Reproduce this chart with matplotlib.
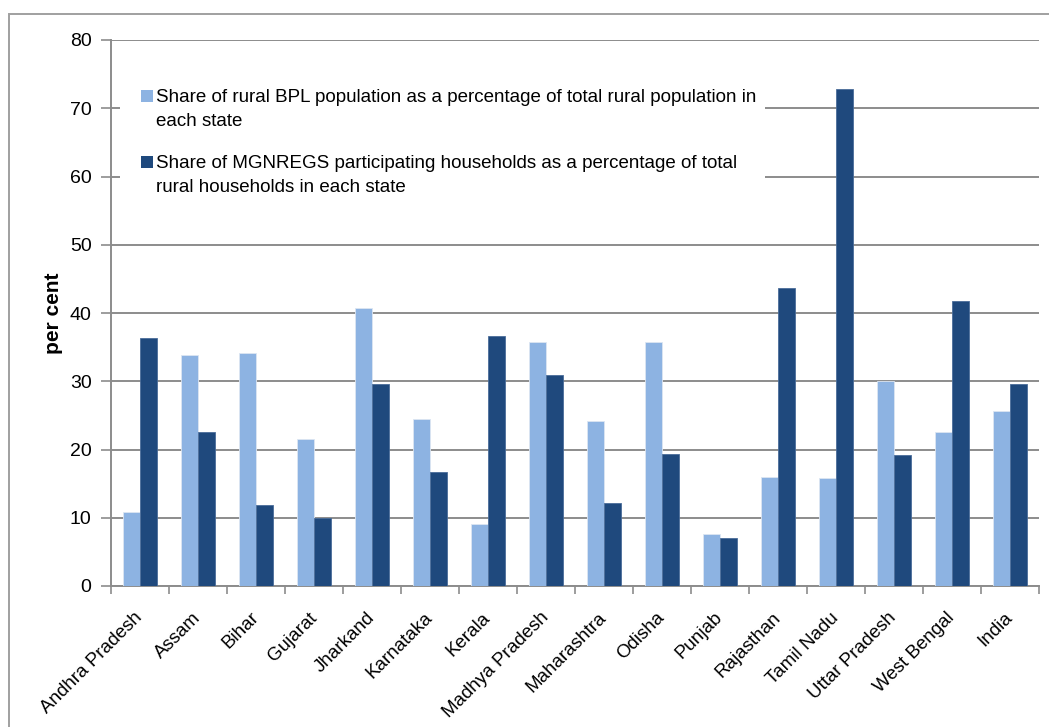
import numpy as np
import matplotlib.pyplot as plt
from matplotlib.patches import Rectangle

plt.rcParams['font.family'] = ['Liberation Sans', 'DejaVu Sans']

states = ['Andhra Pradesh', 'Assam', 'Bihar', 'Gujarat', 'Jharkand', 'Karnataka',
          'Kerala', 'Madhya Pradesh', 'Maharashtra', 'Odisha', 'Punjab', 'Rajasthan',
          'Tamil Nadu', 'Uttar Pradesh', 'West Bengal', 'India']
bpl_share = [10.8, 33.9, 34.1, 21.5, 40.8, 24.5, 9.1, 35.8,
             24.2, 35.7, 7.6, 16.0, 15.8, 30.0, 22.5, 25.7]
mgnregs_share = [36.3, 22.6, 11.9, 9.9, 29.6, 16.7, 36.6, 30.9,
                 12.1, 19.3, 7.1, 43.6, 72.8, 19.2, 41.8, 29.6]
legend_labels = ['Share of rural BPL population as a percentage of total rural population in\neach state',
                 'Share of MGNREGS participating households as a percentage of total\nrural households in each state']

light = '#8DB3E2'
dark = '#1F497D'
grey = '#8c8c8c'

fig = plt.figure(figsize=(10.49, 7.27), dpi=100)
ax = fig.add_axes([111/1049, 1-586/727, 928/1049, 546/727])

x = np.arange(len(states))
w = 0.29
ax.bar(x - w/2, bpl_share, w, color=light, edgecolor='#dce6f2', linewidth=0.6, zorder=3)
ax.bar(x + w/2, mgnregs_share, w, color=dark, edgecolor='#4a6d9a', linewidth=0.6, zorder=3)

ax.set_xlim(-0.5, len(states) - 0.5)
ax.set_ylim(0, 80)
ax.set_yticks(range(0, 81, 10))
ax.yaxis.grid(True, color=grey, linewidth=1.4, zorder=0)
ax.set_axisbelow(True)
for s in ['top', 'right']:
    ax.spines[s].set_visible(False)
for s in ['left', 'bottom']:
    ax.spines[s].set_color(grey)
    ax.spines[s].set_linewidth(1.4)
ax.tick_params(axis='y', direction='out', length=7, width=1.2, color=grey, labelsize=14, pad=7)

ax.set_xticks(x)
ax.set_xticklabels(states, rotation=45, ha='right', va='center', rotation_mode='anchor', fontsize=13.5)
ax.tick_params(axis='x', which='major', length=0, pad=21)
ax.set_xticks(np.arange(len(states) + 1) - 0.5, minor=True)
ax.tick_params(axis='x', which='minor', direction='out', length=6, width=1.2, color=grey)

ax.set_ylabel('per cent', fontsize=15, fontweight='bold', labelpad=5)

# legend drawn by hand so the swatch sits on the first line
ax.add_patch(Rectangle((0.0097, 0.70), 0.695, 0.245, transform=ax.transAxes,
                       facecolor='white', edgecolor='none', zorder=2))
for i, (lab, col) in enumerate(zip(legend_labels, [light, dark])):
    ty = 0.897 - i * 0.121
    ax.add_patch(Rectangle((0.032, ty - 0.011), 0.013, 0.022, transform=ax.transAxes,
                           facecolor=col, edgecolor='none', zorder=4))
    ax.text(0.049, ty + 0.013, lab, transform=ax.transAxes, fontsize=13.5,
            va='top', ha='left', linespacing=1.5, zorder=4)

fig.add_artist(Rectangle((9/1049, -0.05), 1.1, 1 - 14/727 + 0.05, transform=fig.transFigure,
                         fill=False, edgecolor='#a0a0a0', linewidth=1.4))

fig.savefig('out.png', dpi=100)
